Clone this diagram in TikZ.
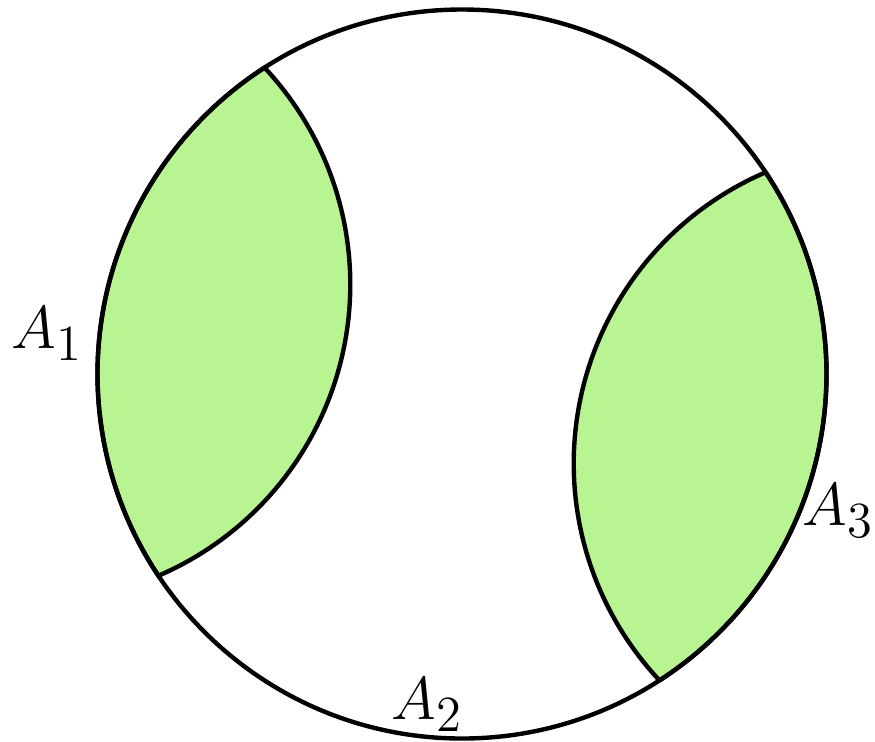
\documentclass[tikz,border=0pt]{standalone}
\usepackage{tikz}
\definecolor{lensgreen}{RGB}{184,244,145}
\begin{document}
\begin{tikzpicture}[line width=1.25pt]
  % Frame of the picture
  \useasboundingbox (0,0) rectangle (8.75,-7.41);

  % Circle center O and radius
  \coordinate (O) at (4.62,-3.74);
  \def\r{3.645}
  \def\rr{3.17}

  \begin{scope}[shift={(O)}]
    % Two lens-shaped regions (second one is the first turned half round)
    \foreach \rot in {0,180} {
      \begin{scope}[rotate=\rot]
        \filldraw[fill=lensgreen] (122.8:\r)
          arc[start angle=122.8, end angle=213.6, radius=\r]
          arc[start angle=-66.75, end angle=43.2, radius=\rr] -- cycle;
      \end{scope}
    }

    % Circle
    \draw (0,0) circle (\r);

    % Labels
    \node (a1) at (-4.15,0.40) {\fontsize{19}{22}\selectfont $A_1$};
    \node (a2) at (-0.35,-3.31) {\fontsize{19}{22}\selectfont $A_2$};
    \node (a3) at (3.76,-1.37) {\fontsize{19}{22}\selectfont $A_3$};
  \end{scope}
\end{tikzpicture}
\end{document}
